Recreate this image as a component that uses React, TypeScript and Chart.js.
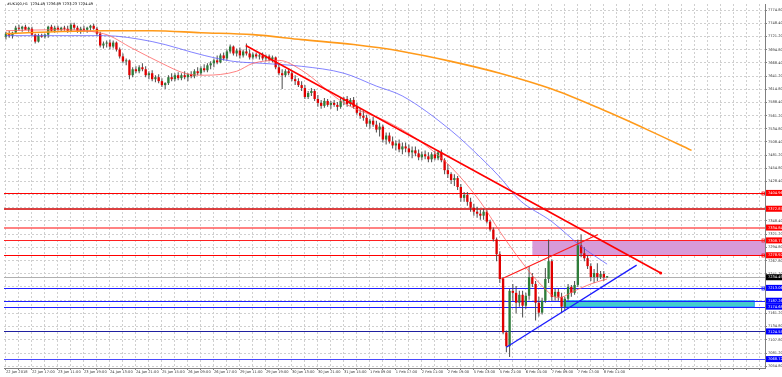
import React, { useEffect, useRef } from 'react';
import { Chart, registerables } from 'chart.js';

Chart.register(...registerables);

const TITLE = '#UK100,H1  7234.49 7236.89 7233.23 7234.49';

// time axis labels (one every 8 hourly bars)
const xTickLabels = [
  '22 Jan 2018', '22 Jan 17:00', '23 Jan 11:00', '23 Jan 19:00', '24 Jan 13:00', '24 Jan 21:00',
  '25 Jan 15:00', '26 Jan 09:00', '26 Jan 17:00', '29 Jan 11:00', '29 Jan 19:00', '30 Jan 13:00',
  '30 Jan 21:00', '31 Jan 15:00', '1 Feb 09:00', '1 Feb 17:00', '2 Feb 11:00', '2 Feb 19:00',
  '5 Feb 13:00', '5 Feb 21:00', '6 Feb 15:00', '7 Feb 09:00', '7 Feb 17:00', '8 Feb 11:00',
];

// price axis tick values
const yTickValues = [
  7774.8, 7748.4, 7721.2, 7694.8, 7668.4, 7641.2, 7614.8, 7588.4, 7561.2, 7534.8,
  7508.4, 7481.2, 7454.8, 7428.4, 7401.2, 7374.8, 7348.4, 7321.2, 7294.8, 7267.8,
  7241.2, 7214.8, 7187.8, 7161.2, 7134.8, 7107.8, 7081.2, 7054.8,
];

// hourly candles [open, high, low, close]
const candles: number[][] = [
  [7721, 7731, 7715, 7727], [7727, 7733, 7719, 7723], [7723, 7731, 7717, 7729], [7729, 7743, 7727, 7739],
  [7739, 7745, 7733, 7737], [7737, 7743, 7731, 7741], [7741, 7745, 7735, 7735], [7735, 7741, 7731, 7739],
  [7737, 7741, 7723, 7725], [7725, 7727, 7707, 7711], [7711, 7727, 7709, 7723], [7723, 7727, 7719, 7721],
  [7721, 7727, 7717, 7725], [7725, 7743, 7719, 7741], [7741, 7745, 7731, 7733], [7733, 7743, 7729, 7739],
  [7739, 7743, 7733, 7735], [7735, 7741, 7731, 7739], [7739, 7743, 7733, 7737], [7737, 7743, 7729, 7733],
  [7733, 7749, 7731, 7745], [7745, 7749, 7735, 7739], [7739, 7743, 7729, 7733], [7733, 7741, 7727, 7737],
  [7737, 7743, 7731, 7735], [7735, 7741, 7729, 7739], [7739, 7745, 7733, 7743], [7743, 7747, 7735, 7737],
  [7737, 7741, 7723, 7727], [7727, 7731, 7699, 7703], [7703, 7711, 7697, 7707], [7707, 7713, 7699, 7709],
  [7709, 7715, 7695, 7701], [7701, 7713, 7697, 7709], [7709, 7711, 7691, 7695], [7695, 7699, 7677, 7681],
  [7681, 7687, 7667, 7671], [7671, 7677, 7663, 7673], [7673, 7675, 7635, 7643], [7643, 7659, 7639, 7655],
  [7655, 7661, 7647, 7651], [7651, 7663, 7647, 7659], [7659, 7667, 7651, 7655], [7655, 7661, 7639, 7643],
  [7643, 7651, 7635, 7647], [7647, 7653, 7631, 7635], [7635, 7643, 7629, 7639], [7639, 7645, 7627, 7631],
  [7631, 7637, 7619, 7623], [7623, 7629, 7615, 7627], [7627, 7643, 7623, 7639], [7639, 7647, 7631, 7635],
  [7635, 7647, 7631, 7643], [7643, 7649, 7633, 7637], [7637, 7647, 7633, 7643], [7643, 7651, 7635, 7639],
  [7639, 7647, 7631, 7645], [7645, 7651, 7637, 7641], [7641, 7655, 7637, 7651], [7651, 7659, 7643, 7647],
  [7647, 7661, 7643, 7657], [7657, 7665, 7649, 7653], [7653, 7667, 7649, 7663], [7663, 7671, 7655, 7667],
  [7667, 7677, 7659, 7673], [7673, 7683, 7665, 7669], [7669, 7687, 7667, 7683], [7683, 7689, 7673, 7677],
  [7677, 7695, 7673, 7691], [7691, 7705, 7687, 7701], [7701, 7703, 7683, 7687], [7687, 7697, 7681, 7693],
  [7693, 7699, 7677, 7683], [7683, 7695, 7679, 7691], [7691, 7707, 7683, 7687], [7687, 7695, 7675, 7679],
  [7679, 7689, 7675, 7685], [7685, 7689, 7677, 7681], [7681, 7687, 7675, 7683], [7683, 7689, 7673, 7677],
  [7677, 7685, 7671, 7681], [7681, 7685, 7671, 7675], [7675, 7683, 7669, 7679], [7679, 7681, 7655, 7659],
  [7659, 7667, 7643, 7647], [7647, 7655, 7615, 7643], [7643, 7655, 7639, 7651], [7651, 7657, 7643, 7647],
  [7647, 7651, 7631, 7635], [7635, 7643, 7623, 7631], [7631, 7637, 7619, 7623], [7623, 7631, 7611, 7617],
  [7617, 7623, 7595, 7599], [7599, 7611, 7595, 7607], [7607, 7617, 7601, 7611], [7611, 7615, 7591, 7595],
  [7595, 7603, 7579, 7587], [7587, 7593, 7575, 7581], [7581, 7597, 7577, 7591], [7591, 7595, 7579, 7583],
  [7583, 7591, 7575, 7587], [7587, 7593, 7579, 7583], [7583, 7589, 7571, 7579], [7579, 7597, 7575, 7591],
  [7591, 7599, 7583, 7595], [7595, 7601, 7579, 7585], [7585, 7597, 7581, 7593], [7593, 7599, 7575, 7579],
  [7579, 7587, 7563, 7567], [7567, 7575, 7555, 7561], [7561, 7571, 7551, 7557], [7557, 7563, 7539, 7545],
  [7545, 7555, 7535, 7551], [7551, 7559, 7539, 7543], [7543, 7551, 7527, 7533], [7533, 7547, 7519, 7539],
  [7539, 7543, 7507, 7513], [7513, 7527, 7503, 7521], [7521, 7527, 7505, 7509], [7509, 7519, 7495, 7501],
  [7501, 7511, 7491, 7505], [7505, 7513, 7487, 7493], [7493, 7507, 7483, 7499], [7499, 7507, 7487, 7495],
  [7495, 7503, 7479, 7487], [7487, 7499, 7475, 7491], [7491, 7499, 7479, 7485], [7485, 7493, 7471, 7477],
  [7477, 7489, 7471, 7483], [7483, 7491, 7473, 7479], [7479, 7487, 7467, 7473], [7473, 7487, 7467, 7483],
  [7483, 7491, 7471, 7475], [7475, 7491, 7471, 7487], [7487, 7493, 7467, 7471], [7471, 7475, 7443, 7451],
  [7451, 7463, 7435, 7443], [7443, 7447, 7423, 7431], [7431, 7443, 7419, 7435], [7435, 7439, 7411, 7417],
  [7417, 7423, 7387, 7395], [7395, 7407, 7387, 7401], [7401, 7407, 7379, 7387], [7387, 7395, 7367, 7375],
  [7375, 7383, 7359, 7367], [7367, 7377, 7355, 7363], [7363, 7371, 7351, 7359], [7359, 7373, 7351, 7367],
  [7367, 7371, 7343, 7347], [7347, 7351, 7327, 7331], [7331, 7335, 7307, 7311], [7311, 7315, 7267, 7281],
  [7281, 7287, 7223, 7231], [7231, 7235, 7119, 7123], [7123, 7127, 7083, 7095], [7095, 7211, 7073, 7207],
  [7207, 7221, 7187, 7203], [7203, 7217, 7161, 7183], [7183, 7207, 7175, 7199], [7199, 7207, 7153, 7177],
  [7177, 7203, 7171, 7197], [7197, 7257, 7189, 7235], [7235, 7243, 7215, 7221], [7221, 7227, 7147, 7183],
  [7183, 7195, 7155, 7163], [7163, 7193, 7159, 7187], [7187, 7253, 7183, 7231], [7231, 7311, 7223, 7267],
  [7267, 7271, 7187, 7195], [7195, 7211, 7187, 7205], [7205, 7211, 7187, 7195], [7195, 7203, 7163, 7175],
  [7175, 7195, 7167, 7191], [7191, 7221, 7187, 7215], [7215, 7219, 7195, 7203], [7203, 7227, 7199, 7219],
  [7219, 7311, 7215, 7299], [7299, 7321, 7275, 7283], [7283, 7295, 7267, 7273], [7273, 7279, 7251, 7257],
  [7257, 7263, 7227, 7235], [7235, 7251, 7223, 7243], [7243, 7263, 7227, 7235], [7235, 7247, 7231, 7241],
  [7241, 7247, 7227, 7234], [7234.49, 7236.89, 7233.23, 7234.49],
];

// moving averages as [bar index, price]
const maSlow = [
  [0, 7727], [15, 7731], [30, 7733], [45, 7733], [60, 7729], [76, 7725], [91, 7715], [107, 7705],
  [122, 7691], [137, 7671], [152, 7647], [168, 7615], [183, 7575], [198, 7531], [211, 7491],
];
const maMid = [
  [0, 7723], [15, 7723], [30, 7723], [45, 7711], [61, 7683], [70, 7671], [79, 7667], [91, 7661],
  [104, 7647], [114, 7621], [122, 7601], [137, 7531], [146, 7477], [152, 7437], [158, 7391],
  [168, 7347], [177, 7297], [185, 7261],
];
const maFast = [
  [0, 7733], [15, 7735], [30, 7727], [39, 7697], [48, 7667], [55, 7647], [61, 7643], [71, 7651],
  [76, 7667], [84, 7673], [91, 7653], [104, 7587], [118, 7547], [128, 7507], [137, 7457],
  [146, 7387], [152, 7327], [159, 7263], [165, 7217], [170, 7193], [175, 7207], [180, 7221], [185, 7231],
];

// trend lines [bar index, price]
const downTrend = [[73.8, 7703], [201.5, 7243]];
const upperChannel = [[152.5, 7231], [182.2, 7321]];
const lowerChannel = [[154, 7093], [194.1, 7259]];

// horizontal levels
const resistanceLevels = [7405, 7373, 7335, 7309, 7279];
const resistanceLabels = ['7404.96', '7372.87', '7334.84', '7308.77', '7278.92'];
const supportLevels = [7213, 7187, 7175, 7125, 7069];
const supportLabels = ['7213.06', '7187.26', '7174.68', '7124.55', '7068.72'];
const lastPrice = 7234.49;

// zones [from bar, to bar, upper price, lower price]
const supplyZone = [162, 240, 7309, 7279];
const demandZone = [171.8, 230.3, 7187, 7175];

const BULL = '#2e7d3a';
const BEAR = '#e00000';
const FONT = '"DejaVu Sans", sans-serif';

const resistanceStyle = [
  { color: '#ff0000', width: 1, marker: true },
  { color: '#d00000', width: 1.5, marker: false },
  { color: '#ff5a5a', width: 1.5, marker: false },
  { color: '#ff2020', width: 1, marker: true },
  { color: '#ff0000', width: 1, marker: true },
];
const supportStyle = [
  { color: '#1f1fff', width: 1, marker: true },
  { color: '#1f1fff', width: 1, marker: false },
  { color: '#1f1fff', width: 1, marker: false },
  { color: '#2020a0', width: 1, marker: false },
  { color: '#4a4aff', width: 1, marker: false },
];

const overlayPlugin = {
  id: 'overlays',
  beforeDatasetsDraw(chart: any) {
    const { ctx, chartArea, scales } = chart;
    const x = scales.x, y = scales.y;
    ctx.save();
    ctx.beginPath();
    ctx.rect(chartArea.left, chartArea.top, chartArea.right - chartArea.left, chartArea.bottom - chartArea.top);
    ctx.clip();
    {
      const x1 = x.getPixelForValue(supplyZone[0]);
      const x2 = x.getPixelForValue(supplyZone[1]);
      const y1 = y.getPixelForValue(supplyZone[2]);
      const y2 = y.getPixelForValue(supplyZone[3]);
      ctx.fillStyle = '#d89ad8';
      ctx.fillRect(x1, y1, x2 - x1, y2 - y1);
    }
    {
      const x1 = x.getPixelForValue(demandZone[0]);
      const x2 = x.getPixelForValue(demandZone[1]);
      const y1 = y.getPixelForValue(demandZone[2]);
      const y2 = y.getPixelForValue(demandZone[3]);
      ctx.fillStyle = '#44cccc';
      ctx.fillRect(x1, y1, x2 - x1, y2 - y1);
      ctx.strokeStyle = '#1f9fff';
      ctx.lineWidth = 1;
      ctx.strokeRect(x1, y1, x2 - x1, y2 - y1);
    }
    const drawLevel = (v: number, st: { color: string; width: number; marker: boolean }) => {
      const py = Math.round(y.getPixelForValue(v)) + (st.width === 1 ? 0.5 : 0);
      ctx.strokeStyle = st.color;
      ctx.lineWidth = st.width;
      ctx.beginPath();
      ctx.moveTo(chartArea.left, py);
      ctx.lineTo(chartArea.right, py);
      ctx.stroke();
      if (st.marker) {
        ctx.lineWidth = 0.8;
        ctx.strokeRect(chartArea.right - 3, py - 1.5, 2.5, 3);
      }
    };
    resistanceLevels.forEach((v, i) => drawLevel(v, resistanceStyle[i]));
    supportLevels.forEach((v, i) => drawLevel(v, supportStyle[i]));
    drawLevel(lastPrice, { color: '#b0b0b0', width: 1, marker: false });
    ctx.restore();
  },
  afterDraw(chart: any) {
    const { ctx, chartArea, scales } = chart;
    const y = scales.y;
    ctx.save();
    ctx.font = `3.6px ${FONT}`;
    ctx.textBaseline = 'middle';
    ctx.textAlign = 'left';
    const label = (v: number, text: string, bg: string) => {
      const py = y.getPixelForValue(v);
      ctx.fillStyle = bg;
      ctx.fillRect(chartArea.right + 1, py - 3, 17, 6);
      ctx.fillStyle = '#ffffff';
      ctx.fillText(text, chartArea.right + 3, py + 0.3);
    };
    resistanceLevels.forEach((v, i) => label(v, resistanceLabels[i], '#ff0000'));
    supportLevels.forEach((v, i) => label(v, supportLabels[i], '#0000ff'));
    label(lastPrice, lastPrice.toFixed(2), '#000000');
    ctx.fillStyle = '#000000';
    ctx.font = `3.6px ${FONT}`;
    ctx.fillText(TITLE, 7, 4.5);
    ctx.restore();
  },
};

export default function App() {
  const canvasRef = useRef<HTMLCanvasElement | null>(null);

  useEffect(() => {
    if (!canvasRef.current) return;
    const bodies = candles.map((c, i) => ({ x: i, y: [c[0], c[3]] }));
    const wicks = candles.map((c, i) => ({ x: i, y: [c[2], c[1]] }));
    const isUp = (i: number) => candles[i][3] >= candles[i][0];
    const pts = (arr: number[][]) => arr.map((p) => ({ x: p[0], y: p[1] }));

    const chart = new Chart(canvasRef.current, {
      type: 'bar',
      data: {
        datasets: [
          {
            type: 'line', data: pts(downTrend), borderColor: '#ff0000', borderWidth: 1.6,
            pointRadius: [0, 1.5], pointBackgroundColor: '#ff0000', pointBorderWidth: 0, tension: 0,
          } as any,
          { type: 'line', data: pts(upperChannel), borderColor: '#ff1a1a', borderWidth: 1.2, pointRadius: 0, tension: 0 } as any,
          { type: 'line', data: pts(lowerChannel), borderColor: '#1a1aff', borderWidth: 1.2, pointRadius: 0, tension: 0 } as any,
          { type: 'line', data: pts(maFast), borderColor: 'rgba(255,90,90,0.75)', borderWidth: 1, pointRadius: 0, cubicInterpolationMode: 'monotone' } as any,
          { type: 'line', data: pts(maMid), borderColor: 'rgba(90,90,255,0.75)', borderWidth: 1, pointRadius: 0, cubicInterpolationMode: 'monotone' } as any,
          { type: 'line', data: pts(maSlow), borderColor: '#ff9a1a', borderWidth: 1.6, pointRadius: 0, cubicInterpolationMode: 'monotone' } as any,
          {
            type: 'bar', data: bodies as any, grouped: false, maxBarThickness: 2.4, minBarLength: 1,
            backgroundColor: (ctx: any) => (isUp(ctx.dataIndex) ? BULL : BEAR),
          } as any,
          {
            type: 'bar', data: wicks as any, grouped: false, maxBarThickness: 1,
            backgroundColor: '#4a4a4a',
          } as any,
        ],
      },
      options: {
        animation: false,
        responsive: true,
        maintainAspectRatio: false,
        devicePixelRatio: 1,
        layout: { padding: 0 },
        plugins: { legend: { display: false }, tooltip: { enabled: false }, title: { display: false } },
        events: [],
        scales: {
          x: {
            type: 'linear',
            offset: false,
            min: -0.6,
            max: 233.6,
            afterBuildTicks: (scale: any) => {
              const t: any[] = [];
              for (let v = 0; v <= 232; v += 4) t.push({ value: v });
              scale.ticks = t;
            },
            afterFit: (scale: any) => { scale.height = 9; scale.paddingLeft = 0; scale.paddingRight = 0; },
            ticks: {
              autoSkip: false, maxRotation: 0, minRotation: 0, align: 'start', padding: 0,
              font: { size: 3.6, family: FONT }, color: '#333333',
              callback: (v: any) => (v % 8 === 0 ? xTickLabels[v / 8] ?? '' : ''),
            },
            grid: { offset: false, color: '#cfcfcf', lineWidth: 1, tickLength: 2, tickColor: '#808080' },
            border: { display: true, color: '#808080', dash: [2, 2] },
          },
          y: {
            type: 'linear',
            position: 'right',
            min: 7051,
            max: 7787,
            afterBuildTicks: (scale: any) => {
              scale.ticks = yTickValues.map((value) => ({ value }));
            },
            afterFit: (scale: any) => { scale.width = 17; scale.paddingTop = 0; scale.paddingBottom = 0; },
            ticks: {
              autoSkip: false, padding: 1,
              font: { size: 3.6, family: FONT }, color: '#333333',
              callback: (v: any) => Number(v).toFixed(2),
            },
            grid: { color: '#cfcfcf', lineWidth: 1, tickLength: 2, tickColor: '#808080' },
            border: { display: true, color: '#808080', dash: [2, 2] },
          },
        },
      } as any,
      plugins: [overlayPlugin],
    });
    return () => chart.destroy();
  }, []);

  return (
    <div style={{ position: 'fixed', left: 0, top: 0, width: 782, height: 377, background: '#ffffff' }}>
      <canvas ref={canvasRef} />
    </div>
  );
}
